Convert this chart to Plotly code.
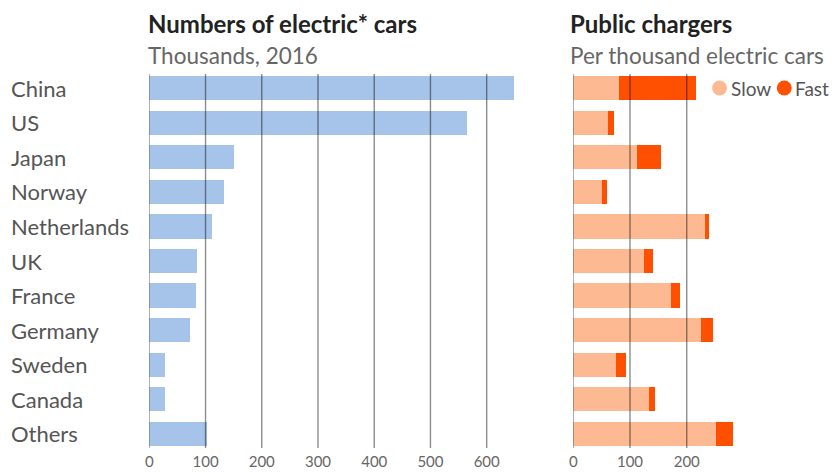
import plotly.graph_objects as go

countries = ["China", "US", "Japan", "Norway", "Netherlands", "UK", "France",
             "Germany", "Sweden", "Canada", "Others"]
cars_thousands = [648, 565, 150, 133, 112, 85, 83, 73, 28, 28, 103]
slow_chargers = [81, 62, 113, 51, 232, 124, 172, 226, 75, 133, 251]
fast_chargers = [135, 9, 41, 9, 7, 17, 16, 20, 18, 11, 31]
left_ticks = [0, 100, 200, 300, 400, 500, 600]
right_ticks = [0, 100, 200]
legend_names = ["Slow", "Fast"]

W, H = 837, 474
BLUE = "#a6c4ea"
SLOW = "#fdba92"
FAST = "#fe5000"
GRID = "rgba(0,0,0,0.45)"
FONT = "Lato"

fig = go.Figure()
fig.add_trace(go.Bar(y=countries, x=cars_thousands, orientation="h",
                     marker=dict(color=BLUE, line=dict(width=0)), width=0.7,
                     xaxis="x", yaxis="y", showlegend=False))
fig.add_trace(go.Bar(y=countries, x=slow_chargers, orientation="h", name=legend_names[0],
                     marker=dict(color=SLOW, line=dict(width=0)), width=0.7,
                     xaxis="x2", yaxis="y2", showlegend=False))
fig.add_trace(go.Bar(y=countries, x=fast_chargers, orientation="h", name=legend_names[1],
                     marker=dict(color=FAST, line=dict(width=0)), width=0.7,
                     xaxis="x2", yaxis="y2", showlegend=False))

top_px, bot_px = 71, 451
axis_common = dict(showgrid=False, zeroline=False, showline=False, ticks="",
                   tickfont=dict(family="Liberation Sans Narrow, " + FONT, size=15, color="#666"))
fig.update_layout(
    width=W, height=H,
    margin=dict(l=0, r=0, t=top_px, b=H - bot_px),
    paper_bgcolor="white", plot_bgcolor="white",
    barmode="stack", bargap=0.3, showlegend=False,
    font=dict(family=FONT, color="#555"),
    xaxis=dict(domain=[146 / W, (146 + 0.565 * 660) / W], range=[0, 660],
               tickvals=left_ticks, **axis_common),
    xaxis2=dict(domain=[572 / W, (572 + 0.57 * 300) / W], range=[0, 300],
                tickvals=right_ticks, **axis_common),
    yaxis=dict(anchor="x", categoryorder="array", categoryarray=countries[::-1],
               showticklabels=False, showgrid=False, zeroline=False, ticks=""),
    yaxis2=dict(anchor="x2", categoryorder="array", categoryarray=countries[::-1],
                showticklabels=False, showgrid=False, zeroline=False, ticks=""),
)

# gridlines drawn above the bars
shapes = []
for xr, ticks in (("x", left_ticks), ("x2", right_ticks)):
    for t in ticks:
        shapes.append(dict(type="line", xref=xr, yref="paper", x0=t, x1=t,
                           y0=0.008, y1=0.992, layer="above",
                           line=dict(color=GRID, width=1.4)))

def px_x(p):
    return p / W

def px_y(p):
    return (bot_px - p) / (bot_px - top_px)

annotations = []
# legend: circle markers + labels
leg_y = 88
for name, col, cx in zip(legend_names, (SLOW, FAST), (719, 784)):
    shapes.append(dict(type="circle", xref="paper", yref="paper",
                       x0=px_x(cx - 7.5), x1=px_x(cx + 7.5),
                       y0=px_y(leg_y + 7.5), y1=px_y(leg_y - 7.5),
                       fillcolor=col, line=dict(width=0)))
    annotations.append(dict(text=name, x=px_x(cx + 9), xref="paper", xanchor="left",
                            y=px_y(leg_y), yref="paper", yanchor="middle",
                            showarrow=False,
                            font=dict(family=FONT, size=19, color="#555")))
fig.update_layout(shapes=shapes)

for c in countries:
    annotations.append(dict(text=c, x=5 / W, xref="paper", xanchor="left",
                            y=c, yref="y", yanchor="middle", showarrow=False,
                            font=dict(family=FONT, size=22, color="#555")))
titles = [("<b>Numbers of electric* cars</b>", 143, 24, "#222", 24),
          ("Thousands, 2016", 143, 55, "#666", 22.5),
          ("<b>Public chargers</b>", 567, 24, "#222", 24),
          ("Per thousand electric cars", 567, 55, "#666", 22.5)]
for t, xp, yp, col, sz in titles:
    annotations.append(dict(text=t, x=xp / W, xref="paper", xanchor="left",
                            y=px_y(yp), yref="paper",
                            yanchor="middle", showarrow=False,
                            font=dict(family=FONT, size=sz, color=col)))
fig.update_layout(annotations=annotations)

fig.write_html("out.html")
